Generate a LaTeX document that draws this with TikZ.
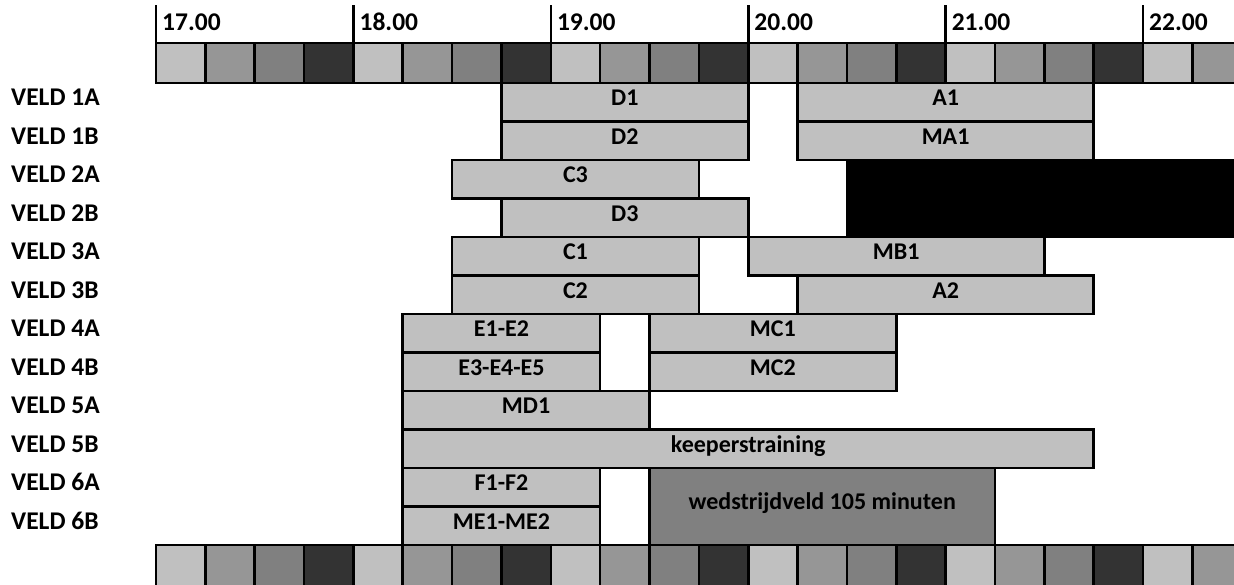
\documentclass[tikz,border=0pt]{standalone}
\usepackage{fontspec}
\setmainfont{Carlito}
\usetikzlibrary{positioning}
\definecolor{kleur0}{HTML}{C0C0C0}
\definecolor{kleur1}{HTML}{969696}
\definecolor{kleur2}{HTML}{808080}
\definecolor{kleur3}{HTML}{333333}
\newcommand{\labelfont}{\bfseries\fontsize{24}{28}\selectfont}
\newcommand{\veldfont}{\bfseries\fontsize{25.5}{30}\selectfont}
\tikzset{
kwartier/.style={draw=black,line width=2.6pt},
balk/.style={draw=black,fill=kleur0,line width=2.6pt,inner sep=0pt,font=\labelfont,
  text height=0.65em,text depth=0pt},
veld/.style={anchor=west,inner sep=0pt,font=\veldfont,text height=0.65em,text depth=0pt},
uur/.style={anchor=west,inner sep=0pt,font=\veldfont,text height=0.65em,text depth=0pt}}

\begin{document}
\begin{tikzpicture}[x=1pt,y=-1pt]
\useasboundingbox (0,0) rectangle (1234,584);

% tijdbalk boven en onder
\foreach \q [evaluate=\q as \kl using {int(mod(\q,4))}] in {0,...,21}{
  \filldraw[kwartier,fill=kleur\kl] ({156+\q*49.35},43) rectangle ++(49.35,40);
  \filldraw[kwartier,fill=kleur\kl] ({156+\q*49.35},545) rectangle ++(49.35,45);
}
\foreach \uur [count=\n from 0] in {17,...,22}{
  \coordinate (t\uur) at ({156+\n*4*49.35},5);
  \draw[kwartier] (t\uur) -- ++(0,38);
  \node[uur] (u\uur) at ({162+\n*4*49.35},27) {\uur.00};
}

% velden
\foreach \v [count=\rij] in {1A,1B,2A,2B,3A,3B,4A,4B,5A,5B,6A,6B}
  \node[veld] (veld\v) at (11,{83+(\rij-0.5)*38.5}) {VELD \v};

% trainingen
\foreach \nm/\qa/\qb/\rij/\txt in {d1/7/12/1/D1, a1/13/19/1/A1, d2/7/12/2/D2, ma1/13/19/2/MA1,
  c3/6/11/3/C3, d3/7/12/4/D3, c1/6/11/5/C1, mb1/12/18/5/MB1, c2/6/11/6/C2, a2/13/19/6/A2,
  e12/5/9/7/E1-E2, mc1/10/15/7/MC1, e345/5/9/8/E3-E4-E5, mc2/10/15/8/MC2, md1/5/10/9/MD1,
  keeper/5/19/10/keeperstraining, f12/5/9/11/F1-F2, me12/5/9/12/ME1-ME2}{
  \pgfmathsetmacro\bw{(\qb-\qa)*49.35}
  \node[balk,minimum width=\bw pt,minimum height=38.5pt] (\nm)
    at ({156+(\qa+\qb)/2*49.35},{83+(\rij-0.5)*38.5}) {\txt};
}
\node[balk,fill=black,minimum width=393pt,minimum height=77pt] (bezet) at (1043.5,198.5) {};
\node[balk,fill=kleur2,minimum width=345.45pt,minimum height=77pt] (wedstrijd)
  at ({156+13.5*49.35},506.5) {wedstrijdveld 105 minuten};
\end{tikzpicture}
\end{document}
